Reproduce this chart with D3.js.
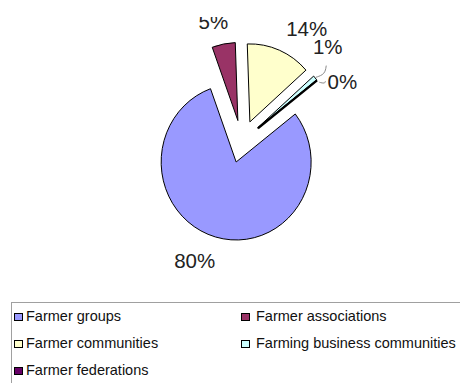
<!DOCTYPE html>
<html>
<head>
<meta charset="utf-8">
<script src="https://cdn.jsdelivr.net/npm/d3@7"></script>
<style>
  html, body { margin: 0; padding: 0; background: #fff; }
  svg { display: block; }
  text { font-family: Arial, "Liberation Sans", sans-serif; }
</style>
</head>
<body>
<svg id="chart" width="460" height="383"></svg>
<script>
// ---- data ----
const categories = ["Farmer groups", "Farmer associations", "Farmer communities", "Farming business communities", "Farmer federations"];
const values = [80, 5, 14, 1, 0];
const valueLabels = ["80%", "5%", "14%", "1%", "0%"];
const colors = ["#9999FF", "#993366", "#FFFFCC", "#CCFFFF", "#660066"];

// ---- layout ----
const W = 460, H = 383;
const cx = 241.8, cy = 141.5;      // pie centre
const rx = 75, ry = 78;            // pie radii (slightly tall ellipse)
const k = ry / rx;
const explode = 20.5;
const firstAngle = 52 * Math.PI / 180;
// label placement per slice: [angle nudge in degrees, distance from slice vertex]
const labelPlace = [[6.8, 107], [-3, 101.6], [8.2, 109], [-9.2, 107], [9, 96.6]];
const labelFont = 20.5;

const svg = d3.select("#chart");

svg.append("defs").append("clipPath").attr("id", "plotClip")
  .append("rect").attr("x", 0).attr("y", 17).attr("width", W).attr("height", H - 17);

const plot = svg.append("g").attr("clip-path", "url(#plotClip)");

const pie = d3.pie().sort(null).value(d => d)
  .startAngle(firstAngle).endAngle(firstAngle + 2 * Math.PI);
const arcs = pie(values);
const arcGen = d3.arc().innerRadius(0).outerRadius(rx);

function vertexOf(a) {
  const m = (a.startAngle + a.endAngle) / 2;
  return [cx + explode * Math.sin(m), cy - explode * Math.cos(m) * k];
}

// slices
const sliceG = plot.append("g");
arcs.forEach((a, i) => {
  const [vx, vy] = vertexOf(a);
  sliceG.append("path")
    .attr("transform", `translate(${vx},${vy}) scale(1,${k})`)
    .attr("d", arcGen(a))
    .attr("fill", colors[i])
    .attr("stroke", "#000")
    .attr("stroke-width", i === 4 ? 2.2 : 1)
    .attr("stroke-linejoin", "miter")
    .attr("vector-effect", "non-scaling-stroke");
});

// labels
const labelPos = arcs.map((a, i) => {
  const [vx, vy] = vertexOf(a);
  const m = (a.startAngle + a.endAngle) / 2 + labelPlace[i][0] * Math.PI / 180;
  const R = labelPlace[i][1];
  return [vx + R * Math.sin(m), vy - R * Math.cos(m)];
});

// leader lines for the two thin slices
[3, 4].forEach(i => {
  const a = arcs[i];
  const [vx, vy] = vertexOf(a);
  const m = (a.startAngle + a.endAngle) / 2;
  const tip = [vx + (rx + 1) * Math.sin(m), vy - (ry + 1) * Math.cos(m)];
  const [lx, ly] = labelPos[i];
  let pts;
  if (i === 3) {
    pts = [tip, [tip[0] + 9, tip[1] - 3], [lx - 1.5, ly + 18.5]];
  } else {
    pts = [[tip[0] + 1.5, tip[1] + 2.5], [tip[0] + 7, tip[1] + 4], [lx - 17, ly - 0.5]];
  }
  plot.append("path")
    .attr("d", d3.line().curve(d3.curveBasis)(pts))
    .attr("fill", "none")
    .attr("stroke", "#8a8a8a")
    .attr("stroke-width", 1);
});

plot.append("g").selectAll("text")
  .data(valueLabels)
  .join("text")
  .attr("x", (d, i) => labelPos[i][0])
  .attr("y", (d, i) => labelPos[i][1] + labelFont * 0.36)
  .attr("text-anchor", "middle")
  .attr("font-size", labelFont)
  .attr("fill", "#222")
  .text(d => d);

// legend
const legend = svg.append("g");
legend.append("rect")
  .attr("x", 11.5).attr("y", 302.5)
  .attr("width", W).attr("height", 120)
  .attr("fill", "#fff").attr("stroke", "#a0a0a0").attr("stroke-width", 1);

const colX = [14, 241];
const textX = [26, 256];
const rowBase = [321, 348, 375];
categories.forEach((c, i) => {
  const col = i % 2, row = Math.floor(i / 2);
  legend.append("rect")
    .attr("x", colX[col] + 0.5).attr("y", rowBase[row] - 7.5)
    .attr("width", 8).attr("height", 7)
    .attr("fill", colors[i]).attr("stroke", "#000").attr("stroke-width", 1);
  legend.append("text")
    .attr("x", textX[col]).attr("y", rowBase[row])
    .attr("font-size", 14.5)
    .attr("fill", "#111")
    .text(c);
});
</script>
</body>
</html>
